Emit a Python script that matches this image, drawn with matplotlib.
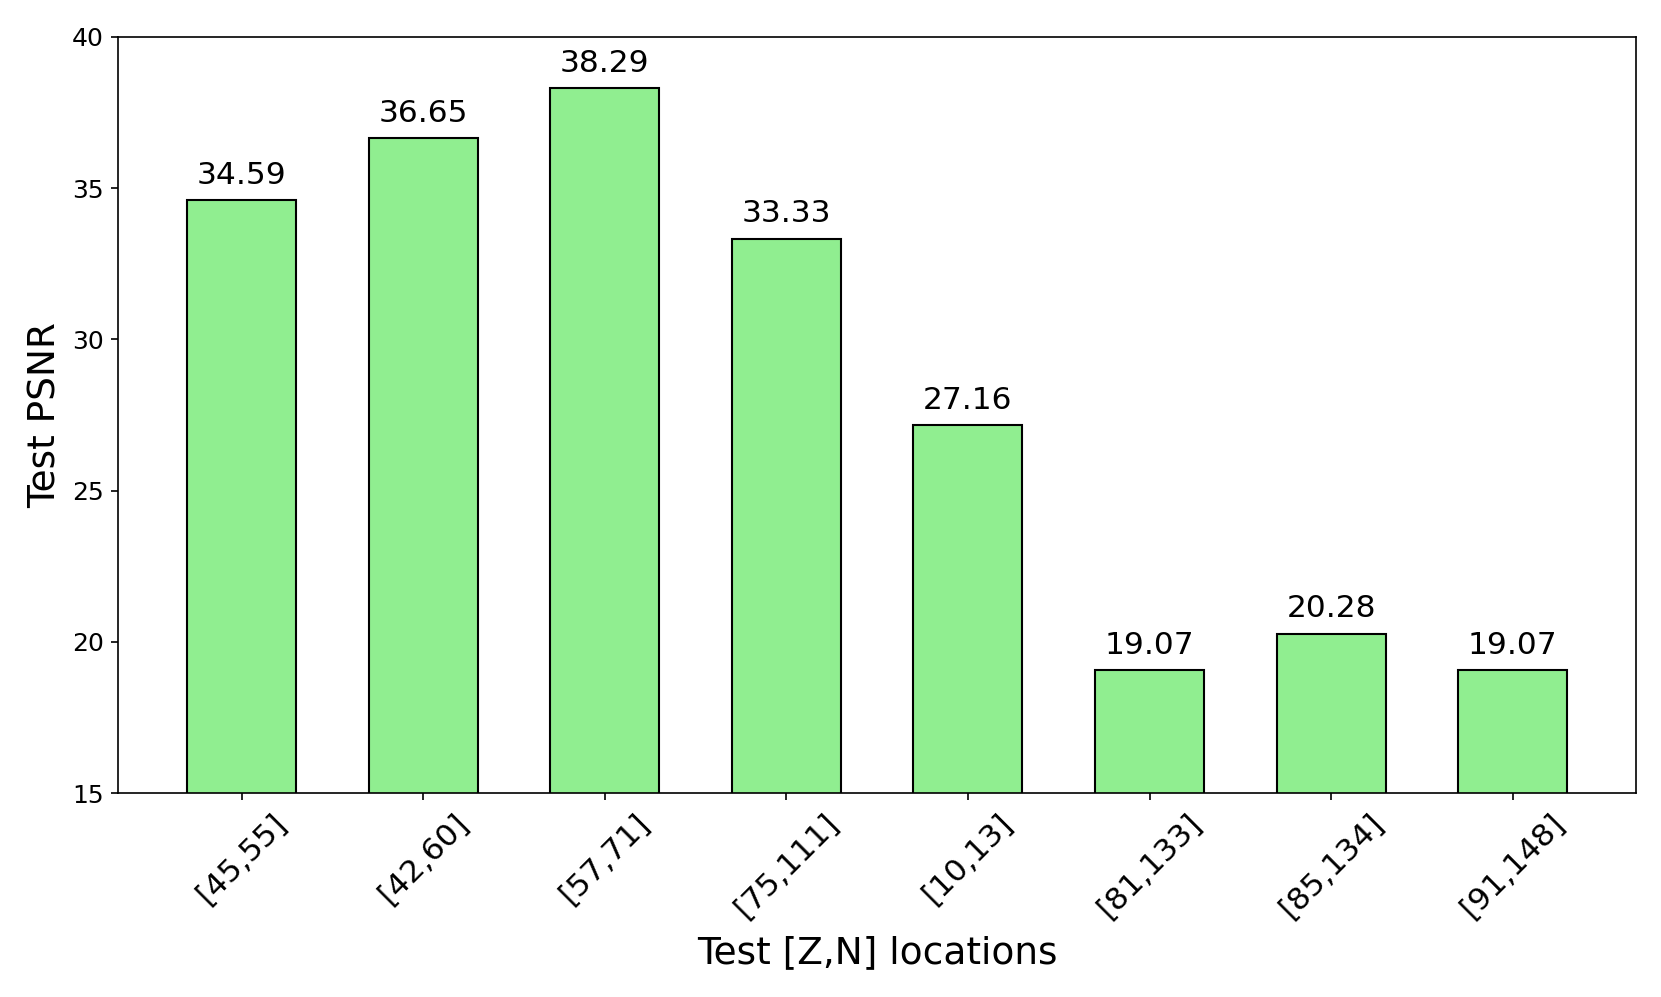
import matplotlib
matplotlib.use("Agg")
import matplotlib.pyplot as plt
import numpy as np

# test locations and PSNR values
locations = ['[45,55]', '[42,60]', '[57,71]', '[75,111]', '[10,13]',
             '[81,133]', '[85,134]', '[91,148]']
psnr = [34.59, 36.65, 38.29, 33.33, 27.16, 19.07, 20.28, 19.07]

fig = plt.figure(figsize=(1661 / 150, 997 / 150), dpi=150)
ax = fig.add_axes([0.0712, 0.2043, 0.985 - 0.0712, 0.9632 - 0.2043])

x = np.arange(len(locations))
bars = ax.bar(x, psnr, width=0.6, color='lightgreen', edgecolor='black', linewidth=1.0)

# value labels above each bar
for xi, v in zip(x, psnr):
    ax.annotate(f'{v:.2f}', xy=(xi, v), xytext=(0, 5), textcoords='offset points',
                ha='center', va='bottom', fontsize=15)

ax.set_ylim(15, 40)
ax.set_xticks(x)
ax.set_xticklabels(locations, rotation=45, fontsize=15)
ax.tick_params(axis='y', labelsize=12)
ax.set_xlabel('Test [Z,N] locations', fontsize=18, labelpad=6)
ax.set_ylabel('Test PSNR', fontsize=18)

fig.savefig('out.png', dpi=150)
